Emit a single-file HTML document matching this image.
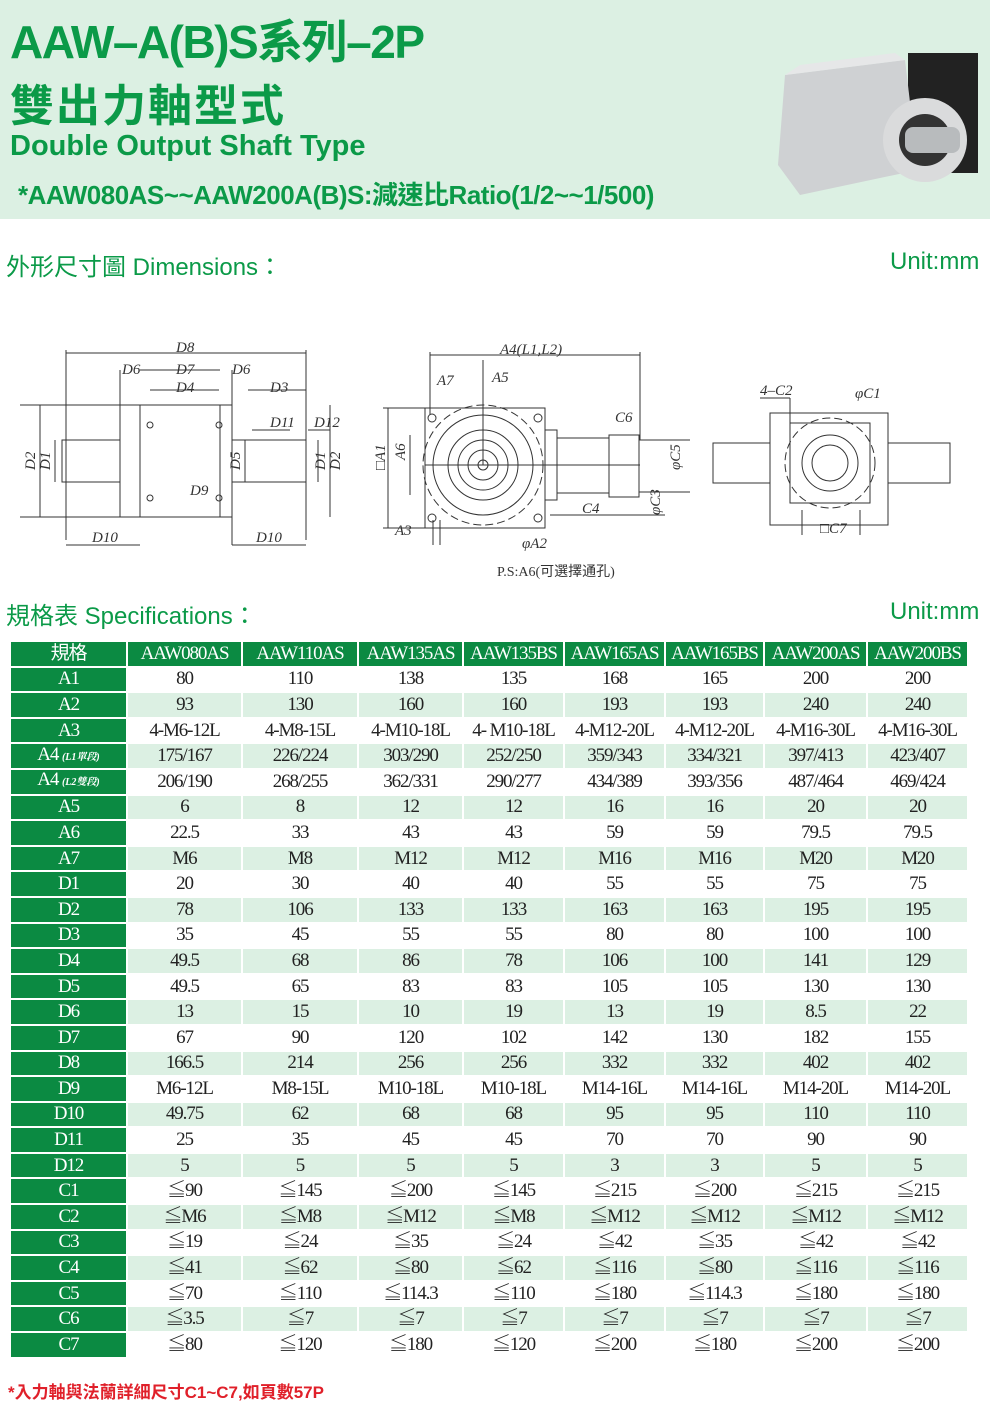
<!DOCTYPE html>
<html><head><meta charset="utf-8"><style>
body{margin:0;width:990px;height:1412px;position:relative;background:#fff;overflow:hidden;font-family:"Liberation Sans","Noto Sans CJK TC",sans-serif}
.hdr{position:absolute;left:0;top:0;width:990px;height:219px;background:#dcf0e3}
.g{color:#0b9a48;position:absolute;font-weight:bold;white-space:nowrap}
table{position:absolute;left:9px;top:640px;border-collapse:collapse;font-family:"Liberation Serif","Noto Serif CJK SC",serif;font-size:19px;letter-spacing:-1.1px}
td{border:2px solid #fff;height:21.6px;padding:0;text-align:center;color:#222;line-height:20px}
tr:nth-child(odd) td{background:#dcf0e3}
tr:nth-child(even) td{background:#fff}
tr td.h,tr:first-child td{background:#0b8a42 !important;color:#fff}
small{font-size:10px;font-style:italic;font-weight:bold;letter-spacing:0}
</style></head><body>
<div class="hdr"></div>
<div class="g" style="left:10px;top:6px;font-size:46px;letter-spacing:-1.5px">AAW–A(B)S系列–2P</div>
<div class="g" style="left:10px;top:70px;font-size:44px;letter-spacing:2px">雙出力軸型式</div>
<div class="g" style="left:10px;top:130px;font-size:29px">Double Output Shaft Type</div>
<div class="g" style="left:18px;top:175px;font-size:26px;letter-spacing:-0.5px">*AAW080AS~~AAW200A(B)S:減速比Ratio(1/2~~1/500)</div>
<svg style="position:absolute;left:760px;top:45px" width="230" height="160">
<rect x="148" y="8" width="70" height="120" fill="#222"/>
<polygon points="25,30 145,15 158,125 40,150 18,120" fill="#cfd1d3"/>
<polygon points="25,30 145,15 135,8 40,20" fill="#e6e7e8"/>
<circle cx="165" cy="95" r="42" fill="#dadbdc"/><circle cx="165" cy="95" r="26" fill="#333"/>
<rect x="145" y="82" width="55" height="26" rx="8" fill="#b8bbbd"/>
</svg>
<div class="g" style="left:6px;top:247px;font-size:24px;font-weight:normal">外形尺寸圖 Dimensions：</div>
<div class="g" style="left:890px;top:248px;font-size:24px;font-weight:normal">Unit:mm</div>
<div class="g" style="left:6px;top:596px;font-size:24px;font-weight:normal">規格表 Specifications：</div>
<div class="g" style="left:890px;top:598px;font-size:24px;font-weight:normal">Unit:mm</div>
<svg style="position:absolute;left:0;top:330px" width="990" height="250" font-family="Liberation Serif" font-style="italic" font-size="15" fill="none" stroke="#333" stroke-width="1">
<g>
<rect x="120" y="75" width="112" height="112"/><rect x="140" y="75" width="80" height="112"/>
<rect x="62" y="110" width="58" height="42"/><rect x="232" y="110" width="74" height="42"/>
<circle cx="150" cy="95" r="3"/><circle cx="219" cy="95" r="3"/><circle cx="150" cy="168" r="3"/><circle cx="219" cy="168" r="3"/>
<path d="M66 23H306M66 20V210M306 20V210M120 40V75M232 40V75M140 40H220M150 60H219M248 60H306M252 100H290M308 100H330M20 75H120M20 187H120M66 215H140M232 215H306M232 70V215M40 75V187M55 110V152M245 110V152M330 75V187M318 110V152"/>
</g>
<g fill="#333" stroke="none">
<text x="176" y="22">D8</text><text x="122" y="44">D6</text><text x="176" y="44">D7</text><text x="232" y="44">D6</text><text x="176" y="62">D4</text><text x="270" y="62">D3</text><text x="270" y="97">D11</text><text x="314" y="97">D12</text><text x="190" y="165">D9</text><text x="92" y="212">D10</text><text x="256" y="212">D10</text>
<text x="35" y="140" transform="rotate(-90 35 140)">D2</text><text x="50" y="140" transform="rotate(-90 50 140)">D1</text><text x="240" y="140" transform="rotate(-90 240 140)">D5</text><text x="325" y="140" transform="rotate(-90 325 140)">D1</text><text x="340" y="140" transform="rotate(-90 340 140)">D2</text>
<text x="500" y="24">A4(L1,L2)</text><text x="437" y="55">A7</text><text x="492" y="52">A5</text><text x="615" y="92">C6</text><text x="582" y="183">C4</text><text x="395" y="205">A3</text><text x="522" y="218">φA2</text>
<text x="385" y="140" transform="rotate(-90 385 140)">□A1</text><text x="405" y="130" transform="rotate(-90 405 130)">A6</text><text x="680" y="140" transform="rotate(-90 680 140)">φC5</text><text x="660" y="185" transform="rotate(-90 660 185)">φC3</text>
<text x="760" y="65">4–C2</text><text x="855" y="68">φC1</text><text x="820" y="203">□C7</text>
<text x="497" y="246" font-style="normal" font-size="14">P.S:A6(可選擇通孔)</text>
</g>
<g>
<rect x="425" y="78" width="120" height="120"/><circle cx="483" cy="135" r="60" stroke-dasharray="8 4"/>
<circle cx="483" cy="135" r="50"/><circle cx="483" cy="135" r="35"/><circle cx="483" cy="135" r="25"/><circle cx="483" cy="135" r="15"/><circle cx="483" cy="135" r="5"/>
<circle cx="432" cy="88" r="4"/><circle cx="538" cy="88" r="4"/><circle cx="432" cy="188" r="4"/><circle cx="538" cy="188" r="4"/>
<rect x="545" y="100" width="12" height="70"/><rect x="557" y="108" width="52" height="55"/><rect x="609" y="105" width="30" height="62"/>
<path d="M430 25H640M430 22V85M640 22V110M383 78H425M383 198H425M388 78V198M410 105V165M425 135H640M639 110H690M639 162H690M550 185H665M433 190V215M440 190V215M483 30V135"/>
</g>
<g>
<rect x="770" y="83" width="118" height="112"/><rect x="790" y="93" width="80" height="80"/><circle cx="830" cy="133" r="28"/><circle cx="830" cy="133" r="18"/><circle cx="830" cy="133" r="45" stroke-dasharray="8 4"/>
<rect x="713" y="113" width="57" height="40"/><rect x="888" y="113" width="62" height="40"/>
<path d="M760 68H790M790 68V100M802 180V205M860 180V205"/>
</g>
</svg>
<table>
<tr><td class="h" style="width:115px;font-family:'Liberation Sans','Noto Sans CJK TC'">規格</td><td style="width:113px">AAW080AS</td><td style="width:114px">AAW110AS</td><td style="width:103px">AAW135AS</td><td style="width:99px">AAW135BS</td><td style="width:99px">AAW165AS</td><td style="width:97px">AAW165BS</td><td style="width:101px">AAW200AS</td><td style="width:99px">AAW200BS</td></tr>
<tr><td class="h">A1</td><td>80</td><td>110</td><td>138</td><td>135</td><td>168</td><td>165</td><td>200</td><td>200</td></tr>
<tr><td class="h">A2</td><td>93</td><td>130</td><td>160</td><td>160</td><td>193</td><td>193</td><td>240</td><td>240</td></tr>
<tr><td class="h">A3</td><td>4-M6-12L</td><td>4-M8-15L</td><td>4-M10-18L</td><td>4- M10-18L</td><td>4-M12-20L</td><td>4-M12-20L</td><td>4-M16-30L</td><td>4-M16-30L</td></tr>
<tr><td class="h">A4 <small>(L1單段)</small></td><td>175/167</td><td>226/224</td><td>303/290</td><td>252/250</td><td>359/343</td><td>334/321</td><td>397/413</td><td>423/407</td></tr>
<tr><td class="h">A4 <small>(L2雙段)</small></td><td>206/190</td><td>268/255</td><td>362/331</td><td>290/277</td><td>434/389</td><td>393/356</td><td>487/464</td><td>469/424</td></tr>
<tr><td class="h">A5</td><td>6</td><td>8</td><td>12</td><td>12</td><td>16</td><td>16</td><td>20</td><td>20</td></tr>
<tr><td class="h">A6</td><td>22.5</td><td>33</td><td>43</td><td>43</td><td>59</td><td>59</td><td>79.5</td><td>79.5</td></tr>
<tr><td class="h">A7</td><td>M6</td><td>M8</td><td>M12</td><td>M12</td><td>M16</td><td>M16</td><td>M20</td><td>M20</td></tr>
<tr><td class="h">D1</td><td>20</td><td>30</td><td>40</td><td>40</td><td>55</td><td>55</td><td>75</td><td>75</td></tr>
<tr><td class="h">D2</td><td>78</td><td>106</td><td>133</td><td>133</td><td>163</td><td>163</td><td>195</td><td>195</td></tr>
<tr><td class="h">D3</td><td>35</td><td>45</td><td>55</td><td>55</td><td>80</td><td>80</td><td>100</td><td>100</td></tr>
<tr><td class="h">D4</td><td>49.5</td><td>68</td><td>86</td><td>78</td><td>106</td><td>100</td><td>141</td><td>129</td></tr>
<tr><td class="h">D5</td><td>49.5</td><td>65</td><td>83</td><td>83</td><td>105</td><td>105</td><td>130</td><td>130</td></tr>
<tr><td class="h">D6</td><td>13</td><td>15</td><td>10</td><td>19</td><td>13</td><td>19</td><td>8.5</td><td>22</td></tr>
<tr><td class="h">D7</td><td>67</td><td>90</td><td>120</td><td>102</td><td>142</td><td>130</td><td>182</td><td>155</td></tr>
<tr><td class="h">D8</td><td>166.5</td><td>214</td><td>256</td><td>256</td><td>332</td><td>332</td><td>402</td><td>402</td></tr>
<tr><td class="h">D9</td><td>M6-12L</td><td>M8-15L</td><td>M10-18L</td><td>M10-18L</td><td>M14-16L</td><td>M14-16L</td><td>M14-20L</td><td>M14-20L</td></tr>
<tr><td class="h">D10</td><td>49.75</td><td>62</td><td>68</td><td>68</td><td>95</td><td>95</td><td>110</td><td>110</td></tr>
<tr><td class="h">D11</td><td>25</td><td>35</td><td>45</td><td>45</td><td>70</td><td>70</td><td>90</td><td>90</td></tr>
<tr><td class="h">D12</td><td>5</td><td>5</td><td>5</td><td>5</td><td>3</td><td>3</td><td>5</td><td>5</td></tr>
<tr><td class="h">C1</td><td>≦90</td><td>≦145</td><td>≦200</td><td>≦145</td><td>≦215</td><td>≦200</td><td>≦215</td><td>≦215</td></tr>
<tr><td class="h">C2</td><td>≦M6</td><td>≦M8</td><td>≦M12</td><td>≦M8</td><td>≦M12</td><td>≦M12</td><td>≦M12</td><td>≦M12</td></tr>
<tr><td class="h">C3</td><td>≦19</td><td>≦24</td><td>≦35</td><td>≦24</td><td>≦42</td><td>≦35</td><td>≦42</td><td>≦42</td></tr>
<tr><td class="h">C4</td><td>≦41</td><td>≦62</td><td>≦80</td><td>≦62</td><td>≦116</td><td>≦80</td><td>≦116</td><td>≦116</td></tr>
<tr><td class="h">C5</td><td>≦70</td><td>≦110</td><td>≦114.3</td><td>≦110</td><td>≦180</td><td>≦114.3</td><td>≦180</td><td>≦180</td></tr>
<tr><td class="h">C6</td><td>≦3.5</td><td>≦7</td><td>≦7</td><td>≦7</td><td>≦7</td><td>≦7</td><td>≦7</td><td>≦7</td></tr>
<tr><td class="h">C7</td><td>≦80</td><td>≦120</td><td>≦180</td><td>≦120</td><td>≦200</td><td>≦180</td><td>≦200</td><td>≦200</td></tr>
</table>
<style>td{height:21.6px!important}tr{height:25.6px}</style>
<div style="position:absolute;left:8px;top:1378px;font-size:17px;font-weight:bold;color:#e0202a;white-space:nowrap">*入力軸與法蘭詳細尺寸C1~C7,如頁數57P</div>
</body></html>
